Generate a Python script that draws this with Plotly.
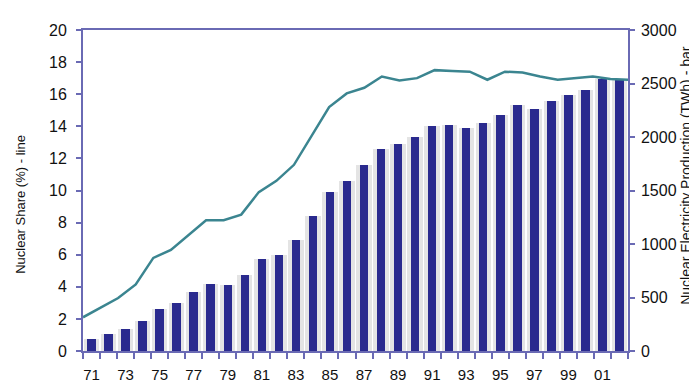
import plotly.graph_objects as go

years = list(range(1971, 2003))
production_twh = [115, 160, 205, 280, 390, 445, 550, 630, 620, 715, 860, 900,
                  1040, 1260, 1485, 1590, 1740, 1885, 1930, 2000, 2100, 2115,
                  2085, 2130, 2205, 2300, 2260, 2340, 2390, 2440, 2540, 2540]
share_pct = [2.1, 2.7, 3.3, 4.15, 5.8, 6.3, 7.2, 8.15, 8.15, 8.5, 9.9, 10.6,
             11.6, 13.4, 15.2, 16.05, 16.4, 17.1, 16.85, 17.0, 17.5, 17.45,
             17.4, 16.9, 17.4, 17.35, 17.1, 16.9, 17.0, 17.1, 16.95, 16.9]
tick_years = list(range(1971, 2002, 2))
tick_labels = [str(y)[2:] for y in tick_years]
left_title = "Nuclear Share (%) - line"
right_title = "Nuclear Electricity Production (TWh) - bar"

axis_col = "#6a6ab4"
font_fam = "Liberation Sans, Arial, sans-serif"

fig = go.Figure()
fig.add_trace(go.Bar(x=years, y=production_twh, width=0.9, marker_color="#e4e4e4",
                     marker_line_width=0, xaxis="x", yaxis="y", showlegend=False,
                     hoverinfo="skip"))
fig.add_trace(go.Bar(x=years, y=production_twh, width=0.5, marker_color="#2a2a8e",
                     marker_line_width=0, xaxis="x", yaxis="y", showlegend=False))
fig.add_trace(go.Scatter(x=years, y=share_pct, mode="lines",
                         line=dict(color="#3b8590", width=2.5),
                         xaxis="x2", yaxis="y2", showlegend=False))

fig.update_layout(
    width=697, height=387,
    margin=dict(l=75, r=77, t=22, b=29),
    paper_bgcolor="white", plot_bgcolor="white",
    barmode="overlay", bargap=0,
    font=dict(family=font_fam, size=14, color="#111111"),
    xaxis=dict(range=[1970.5, 2002.5], tickmode="array", tickvals=tick_years,
               ticktext=tick_labels, ticks="", showgrid=False, zeroline=False,
               showline=True, linecolor=axis_col, linewidth=2, mirror=True,
               tickfont=dict(size=15), ticklabelstandoff=9,
               minor=dict(tick0=1970.5, dtick=1, ticks="outside", ticklen=6,
                          tickcolor=axis_col, tickwidth=1.5, showgrid=False)),
    xaxis2=dict(range=[1971, 2002], overlaying="x", visible=False),
    yaxis=dict(range=[0, 3000], dtick=500, side="right", showgrid=False,
               zeroline=False, showline=True, linecolor=axis_col, linewidth=1.5,
               ticks="outside", ticklen=5, tickcolor=axis_col, tickwidth=1.5,
               tickfont=dict(size=16), ticklabelstandoff=3),
    yaxis2=dict(range=[0, 20], dtick=2, side="left", overlaying="y",
                showgrid=False, zeroline=False, showline=True,
                linecolor=axis_col, linewidth=2, ticks="outside", ticklen=5,
                tickcolor=axis_col, tickwidth=1.5, tickfont=dict(size=16),
                ticklabelstandoff=6),
    annotations=[
        dict(text=left_title, xref="paper", yref="paper", x=-0.114, y=0.458,
             xanchor="center", yanchor="middle", textangle=-90, showarrow=False,
             font=dict(size=13)),
        dict(text=right_title, xref="paper", yref="paper", x=1.106, y=0.548,
             xanchor="center", yanchor="middle", textangle=-90, showarrow=False,
             font=dict(size=14)),
    ],
)

fig.write_html("out.html")
